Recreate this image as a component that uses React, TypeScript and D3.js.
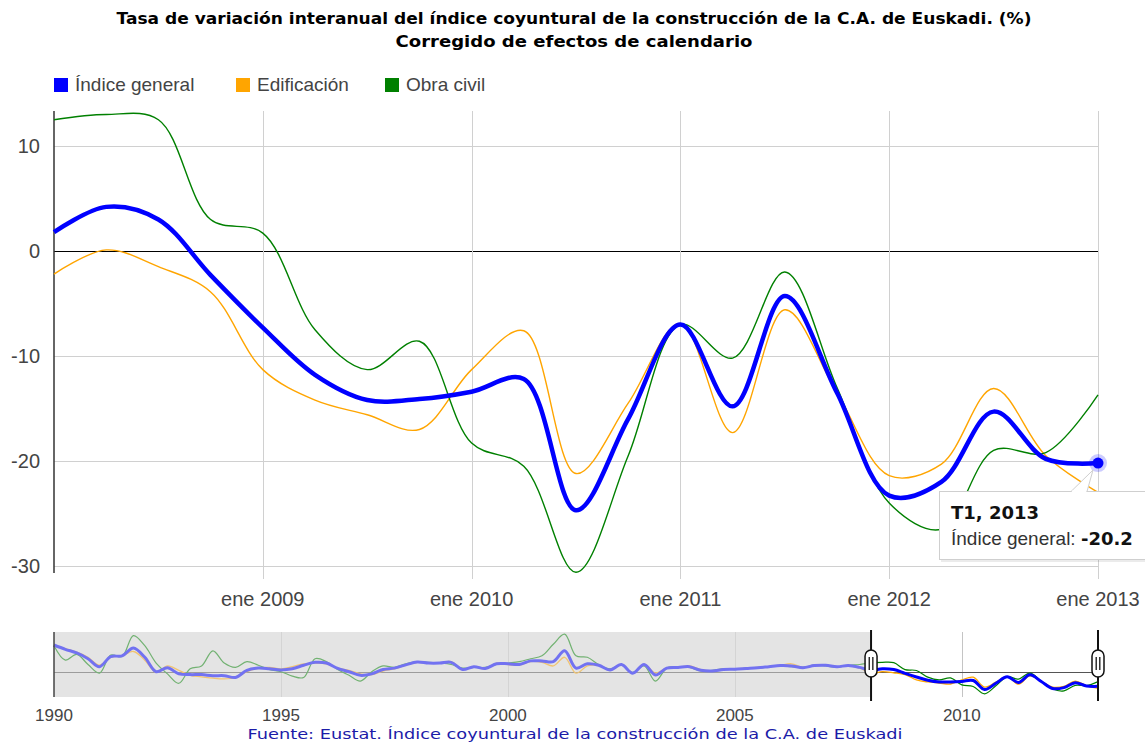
import React from "react";
import * as d3 from "d3";

// ---- Data (quarterly, T1 2008 .. T1 2013) ----
const mainStart = 2008;
const mainEnd = 2013;
const general = [1.8, 4.2, 3.0, -2.3, -7.3, -11.8, -14.2, -14.1, -13.4, -12.2, -24.7, -16.0, -7.0, -14.8, -4.3, -13.5, -23.3, -22.0, -15.3, -19.8, -20.2];
const edificacion = [-2.2, 0.1, -1.5, -3.9, -11.3, -14.2, -15.6, -17.0, -11.3, -7.6, -21.2, -14.5, -6.9, -17.3, -5.6, -13.5, -21.4, -20.3, -13.1, -19.5, -23.0];
const obraCivil = [12.5, 13.0, 12.5, 3.0, 1.7, -7.5, -11.3, -8.6, -18.3, -20.5, -30.6, -19.5, -7.0, -10.2, -2.0, -13.0, -24.0, -26.5, -19.0, -19.2, -13.7];

// ---- Navigator history (quarterly, T1 1990 .. T4 2007) ----
const navStart = 1990;
const navEnd = 2013;
const histGeneral = [37, 31, 26, 18, 7, 21, 22, 33, 20, 0, 5.5, -3, -4, -4, -5.5, -5.5, -8, 2, 5, 4, 2.5, 4, 9, 13, 12, 4.5, 0, -5, -3, 3, 5, 9.5, 13.5, 12, 12, 13, 3, 7, 4.5, 11, 11, 10, 15, 15, 14, 29, 5, 11, 9, 2.5, 10, -2, 10, -4.5, 5, 6, 7, 2, 1, 3, 3.5, 4.5, 5.5, 7, 8.5, 8, 5.5, 8.5, 9, 7, 8.5, 6];
const histEdificacion = [36, 32, 27, 20, 9, 20, 22, 28, 16, -1, 8, 2, -5, -7, -9, -10, -8, 0, 5, 6, 4, 7, 11, 12, 11, 5, 2, -3, -4, 1, 4, 9, 13, 12, 12, 14, 3, 7, 4, 12, 10, 9, 14, 13, 8, 20, -2, 8, 9, 2, 10, -2, 10, -2, 5, 6, 8, 3, 1, 4, 4, 5, 6, 7, 9, 11, 6, 8, 9, 7, 8, 5];
const histObraCivil = [36, 16, 24, 10, -2, 23, 21, 50, 36, 12, -3, -16, 4, 8, 29, 12, 6, 14, 9, 3, 0, -6, -8, 18, 14, 3, -5, -13, 0, 8, 6, 11, 14, 13, 12, 10, 5, 6, 6, 10, 12, 14, 18, 22, 38, 52, 22, 20, 10, 4, 9, -1, 8, -13, 5, 7, 6, 1, 2, 4, 3, 5, 5, 7, 8, 7, 6, 9, 8, 6, 9, 10];

const yTicks = [10, 0, -10, -20, -30];
const xTickYears = [2009, 2010, 2011, 2012, 2013];
const xTickLabels = ["ene 2009", "ene 2010", "ene 2011", "ene 2012", "ene 2013"];
const navTickYears = [1990, 1995, 2000, 2005, 2010];

const seriesNames = ["Índice general", "Edificación", "Obra civil"];
const seriesColors = ["#0000ff", "#ffa500", "#008000"];

const titleLine1 = "Tasa de variación interanual del índice coyuntural de la construcción de la C.A. de Euskadi. (%)";
const titleLine2 = "Corregido de efectos de calendario";
const sourceText = "Fuente: Eustat. Índice coyuntural de la construcción de la C.A. de Euskadi";

const W = 1145;
const H = 744;
const SANS = "'Liberation Sans', Arial, sans-serif";

export default function App() {
  const left = 54, right = 1098, top = 111, bottom = 573;
  const x = d3.scaleLinear().domain([mainStart, mainEnd]).range([left, right]);
  const y = d3.scaleLinear().domain([-30.67, 13.33]).range([bottom, top]);

  const mainLine = d3
    .line<number>()
    .x((_, i) => x(mainStart + i / 4))
    .y((d) => y(d))
    .curve(d3.curveCatmullRom.alpha(0.5));

  // navigator
  const nTop = 632, nBottom = 697;
  const nx = d3.scaleLinear().domain([navStart, navEnd]).range([left, right]);
  const ny = d3.scaleLinear().domain([-35, 55]).range([nBottom, nTop]);
  const navLine = d3
    .line<number>()
    .x((_, i) => nx(navStart + i / 4))
    .y((d) => ny(d))
    .curve(d3.curveCatmullRom.alpha(0.5));
  const fullG = histGeneral.concat(general);
  const fullE = histEdificacion.concat(edificacion);
  const fullO = histObraCivil.concat(obraCivil);
  const selX0 = nx(mainStart);
  const selX1 = nx(mainEnd);

  const lastX = x(mainEnd);
  const lastY = y(general[general.length - 1]);

  const legendX = [54, 236, 385];
  const crisp = (v: number) => Math.round(v) + 0.5;

  return (
    <div style={{ position: "fixed", left: 0, top: 0 }}>
      <svg width={W} height={H} style={{ display: "block", background: "#fff" }}>
        {/* Title */}
        <text x={574} y={24} textAnchor="middle" fontFamily="'DejaVu Sans', Verdana, sans-serif" fontWeight="bold" fontSize={15.5} fill="#000" textLength={915} lengthAdjust="spacingAndGlyphs">
          {titleLine1}
        </text>
        <text x={574} y={47} textAnchor="middle" fontFamily="'DejaVu Sans', Verdana, sans-serif" fontWeight="bold" fontSize={15.5} fill="#000" textLength={357} lengthAdjust="spacingAndGlyphs">
          {titleLine2}
        </text>

        {/* Legend */}
        {seriesNames.map((n, i) => (
          <g key={n}>
            <rect x={legendX[i]} y={78} width={14} height={14} fill={seriesColors[i]} />
            <text x={legendX[i] + 21} y={91} fontFamily={SANS} fontSize={19} fill="#444">
              {n}
            </text>
          </g>
        ))}

        {/* Grid */}
        {yTicks.map((t) => (
          <line key={"h" + t} x1={left} x2={right} y1={crisp(y(t))} y2={crisp(y(t))} stroke={t === 0 ? "#000" : "#d0d0d0"} strokeWidth={1} />
        ))}
        {xTickYears.map((t) => (
          <line key={"v" + t} x1={crisp(x(t))} x2={crisp(x(t))} y1={top} y2={bottom + 6} stroke="#d0d0d0" strokeWidth={1} />
        ))}
        <line x1={left} x2={left} y1={top} y2={bottom} stroke="#333" strokeWidth={1.5} />

        {/* Y labels */}
        {yTicks.map((t) => (
          <text key={"yl" + t} x={40} y={y(t) + 7} textAnchor="end" fontFamily={SANS} fontSize={20} fill="#444">
            {t}
          </text>
        ))}
        {/* X labels */}
        {xTickYears.map((t, i) => (
          <text key={"xl" + t} x={x(t)} y={606} textAnchor="middle" fontFamily={SANS} fontSize={20} fill="#444">
            {xTickLabels[i]}
          </text>
        ))}

        {/* Series */}
        <path d={mainLine(edificacion) || ""} fill="none" stroke={seriesColors[1]} strokeWidth={1.4} />
        <path d={mainLine(obraCivil) || ""} fill="none" stroke={seriesColors[2]} strokeWidth={1.4} />
        <path d={mainLine(general) || ""} fill="none" stroke={seriesColors[0]} strokeWidth={4.5} strokeLinejoin="round" />

        {/* Highlight point */}
        <circle cx={lastX} cy={lastY} r={9} fill="#0000ff" opacity={0.2} />
        <circle cx={lastX} cy={lastY} r={5.5} fill="#0000ff" />

        {/* Tooltip */}
        <rect x={941} y={493} width={220} height={69} fill="#000" opacity={0.08} />
        <rect x={939.5} y={491.5} width={220} height={68} fill="#fff" stroke="#cfcfcf" strokeWidth={1} />
        <path d={`M1071,491.5 L${lastX - 5},${lastY + 7} L1087,491.5`} fill="#fff" stroke="#cfcfcf" strokeWidth={1} />
        <line x1={1072} x2={1086} y1={491.5} y2={491.5} stroke="#fff" strokeWidth={2} />
        <text x={951} y={519} fontFamily="'DejaVu Sans', Verdana, sans-serif" fontWeight="bold" fontSize={18} fill="#111">
          T1, 2013
        </text>
        <text x={951} y={545} fontFamily={SANS} fontSize={19} fill="#333">
          {seriesNames[0] + ": "}
          <tspan fontFamily="'DejaVu Sans', Verdana, sans-serif" fontWeight="bold" fontSize={18} fill="#111">
            {general[general.length - 1].toFixed(1)}
          </tspan>
        </text>

        {/* Navigator */}
        <rect x={left} y={nTop} width={selX0 - left} height={nBottom - nTop} fill="#e4e4e4" />
        {navTickYears.slice(1).map((t) => (
          <line key={"nv" + t} x1={crisp(nx(t))} x2={crisp(nx(t))} y1={nTop} y2={nBottom} stroke="#c4c4c4" strokeWidth={1} />
        ))}
        <line x1={left} x2={right} y1={crisp(ny(0))} y2={crisp(ny(0))} stroke="#555" strokeWidth={1.2} />
        <path d={navLine(fullE) || ""} fill="none" stroke={seriesColors[1]} strokeWidth={1.3} />
        <path d={navLine(fullO) || ""} fill="none" stroke={seriesColors[2]} strokeWidth={1.2} />
        <path d={navLine(fullG) || ""} fill="none" stroke={seriesColors[0]} strokeWidth={3} />
        <rect x={left} y={nTop} width={selX0 - left} height={nBottom - nTop} fill="#e4e4e4" opacity={0.5} />
        <line x1={left} x2={left} y1={nTop} y2={nBottom} stroke="#444" strokeWidth={1.5} />
        {navTickYears.map((t) => (
          <text key={"nl" + t} x={nx(t)} y={721} textAnchor="middle" fontFamily={SANS} fontSize={17} fill="#444">
            {t}
          </text>
        ))}
        {[selX0, selX1].map((hx, i) => (
          <g key={"hd" + i}>
            <line x1={hx} x2={hx} y1={nTop - 2} y2={nBottom + 4} stroke="#111" strokeWidth={2} />
            <rect x={hx - 6} y={650} width={12} height={27} rx={6} ry={6} fill="#fff" stroke="#111" strokeWidth={1.5} />
            <line x1={hx - 1.8} x2={hx - 1.8} y1={657} y2={670} stroke="#111" strokeWidth={1.3} />
            <line x1={hx + 1.8} x2={hx + 1.8} y1={657} y2={670} stroke="#111" strokeWidth={1.3} />
          </g>
        ))}

        {/* Source */}
        <text x={575} y={739} textAnchor="middle" fontFamily="'DejaVu Sans', Verdana, sans-serif" fontSize={14} fill="#1c1ca8" textLength={655} lengthAdjust="spacingAndGlyphs">
          {sourceText}
        </text>
      </svg>
    </div>
  );
}
